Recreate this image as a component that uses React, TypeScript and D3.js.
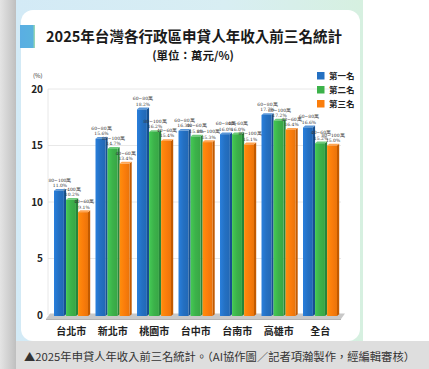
import React from 'react';
import * as d3 from 'd3';

const CITIES = ['台北市', '新北市', '桃園市', '台中市', '台南市', '高雄市', '全台'];
const SERIES = ['第一名', '第二名', '第三名'];
const COLORS = ['#2470c2', '#3cb24a', '#fb7d0b'];
const SIDE = ['#17508f', '#27853a', '#c25a00'];
const TOP = ['#5b97d8', '#6fcb7b', '#ffa552'];

// 佔比(%)
const RANK1 = [11.0, 15.6, 18.2, 16.3, 16.0, 17.7, 16.6];
const RANK2 = [10.2, 14.7, 16.2, 15.8, 16.0, 17.2, 15.2];
const RANK3 = [9.1, 13.4, 15.4, 15.3, 15.1, 16.4, 15.0];
// 收入級距
const BAND1 = ['80~100萬', '60~80萬', '60~80萬', '60~80萬', '60~80萬', '60~80萬', '60~80萬'];
const BAND2 = ['>400萬', '80~100萬', '80~100萬', '40~60萬', '40~60萬', '80~100萬', '40~60萬'];
const BAND3 = ['40~60萬', '40~60萬', '40~60萬', '80~100萬', '80~100萬', '40~60萬', '80~100萬'];

const Y_TICKS = [0, 5, 10, 15, 20];

const W = 429, H = 369;
const FONT = '"Noto Sans CJK TC", "Noto Sans", sans-serif';

export default function App() {
  const x = d3.scaleBand<string>().domain(CITIES).range([50.5, 341]).padding(0);
  const xi = d3.scaleBand<string>().domain(SERIES).range([3.5, 37.5]).paddingInner(0.18);
  const y = d3.scaleLinear().domain([0, 20]).range([315, 89]);

  const values = [RANK1, RANK2, RANK3];
  const bands = [BAND1, BAND2, BAND3];
  const bw = xi.bandwidth();
  const dx = 2.2, dy = 1.8;

  return (
    <svg width={W} height={H} style={{ position: 'absolute', left: 0, top: 0, fontFamily: FONT }}>
      <defs>
        <linearGradient id="leftStrip" x1="0" x2="1">
          <stop offset="0" stopColor="#e4e4e4" />
          <stop offset="0.7" stopColor="#c9c9c9" />
          <stop offset="1" stopColor="#bcbcbc" />
        </linearGradient>
        <linearGradient id="frameTop" x1="0" x2="1">
          <stop offset="0" stopColor="#d3eaf6" />
          <stop offset="0.6" stopColor="#d8eef3" />
          <stop offset="1" stopColor="#d6f0e0" />
        </linearGradient>
        <linearGradient id="mark" x1="0" x2="1">
          <stop offset="0" stopColor="#5aaee3" />
          <stop offset="0.85" stopColor="#5ab3de" />
          <stop offset="1" stopColor="#a8e0a8" />
        </linearGradient>
        {COLORS.map((c, i) => (
          <linearGradient key={i} id={`bar${i}`} x1="0" x2="1">
            <stop offset="0" stopColor={d3.color(c)!.brighter(0.35).formatHex()} />
            <stop offset="0.5" stopColor={c} />
            <stop offset="1" stopColor={d3.color(c)!.darker(0.2).formatHex()} />
          </linearGradient>
        ))}
      </defs>

      {/* page background */}
      <rect x={0} y={0} width={W} height={H} fill="#ffffff" />
      <rect x={0} y={0} width={17} height={H} fill="url(#leftStrip)" />
      <rect x={16} y={0} width={347} height={342} fill="url(#frameTop)" />
      <rect x={21} y={10} width={339} height={331} rx={12} fill="#ffffff" />
      <rect x={16} y={341} width={W - 16} height={28} fill="#dedede" />
      <text x={24} y={361} fontSize={11} fill="#333" textLength={391} lengthAdjust="spacingAndGlyphs"
        fontFamily={'"Noto Sans CJK TC", sans-serif'}>
        ▲2025年申貸人年收入前三名統計。（AI協作圖／記者項瀚製作，經編輯審核）
      </text>

      {/* title */}
      <rect x={20} y={25} width={15} height={23} fill="url(#mark)" />
      <text x={194} y={42} textAnchor="middle" fontSize={15} fontWeight={700} fill="#1a1a1a"
        textLength={296} lengthAdjust="spacingAndGlyphs">
        2025年台灣各行政區申貸人年收入前三名統計
      </text>
      <text x={193} y={60} textAnchor="middle" fontSize={11.5} fontWeight={700} fill="#1a1a1a">
        (單位：萬元/%)
      </text>

      {/* axis */}
      <text x={33} y={78} fontSize={6} fill="#333">(%)</text>
      {Y_TICKS.map(t => (
        <g key={t}>
          {t > 0 && <line x1={48} x2={341} y1={y(t)} y2={y(t)} stroke="#e2e2e2" strokeWidth={0.8} />}
          <text x={43} y={y(t) + 3.5} textAnchor="end" fontSize={10} fontWeight={700} fill="#222">{t}</text>
        </g>
      ))}
      <line x1={48} x2={48} y1={y(20)} y2={y(0)} stroke="#e2e2e2" strokeWidth={0.8} />

      {/* floor */}
      <polygon points={`46,319 50,313.5 345,313.5 341,319`} fill="#c8c8c8" />
      <polygon points={`46,319 341,319 341,320 46,320`} fill="#b3b3b3" />

      {/* bars */}
      {CITIES.map((c, ci) => (
        <g key={c}>
          {SERIES.map((s, si) => {
            const v = values[si][ci];
            const bx = x(c)! + xi(s)!;
            const by = y(v);
            const base = 316;
            return (
              <g key={s}>
                <polygon points={`${bx + bw},${by} ${bx + bw + dx},${by - dy} ${bx + bw + dx},${base - dy} ${bx + bw},${base}`} fill={SIDE[si]} />
                <polygon points={`${bx},${by} ${bx + dx},${by - dy} ${bx + bw + dx},${by - dy} ${bx + bw},${by}`} fill={TOP[si]} />
                <rect x={bx} y={by} width={bw} height={base - by} fill={`url(#bar${si})`} />
              </g>
            );
          })}
        </g>
      ))}

      {/* value labels */}
      {CITIES.map((c, ci) => (
        <g key={c}>
          {SERIES.map((s, si) => {
            const v = values[si][ci];
            const cx = x(c)! + xi(s)! + bw / 2 + 1;
            const by = y(v);
            return (
              <g key={s} fontSize={4.5} fill="#333" textAnchor="middle" fontFamily={'"DejaVu Serif", serif'}>
                <text x={cx} y={by - 9}>{bands[si][ci]}</text>
                <text x={cx} y={by - 3.5}>{v.toFixed(1)}%</text>
              </g>
            );
          })}
        </g>
      ))}

      {/* category labels */}
      {CITIES.map(c => (
        <text key={c} x={x(c)! + x.bandwidth() / 2} y={335} textAnchor="middle" fontSize={10} fontWeight={700} fill="#222">{c}</text>
      ))}

      {/* legend */}
      {SERIES.map((s, i) => (
        <g key={s} transform={`translate(317,${72 + i * 14})`}>
          <rect width={7.5} height={7.5} fill={COLORS[i]} />
          <text x={12} y={7} fontSize={8.5} fontWeight={700} fill="#222">{s}</text>
        </g>
      ))}
    </svg>
  );
}
